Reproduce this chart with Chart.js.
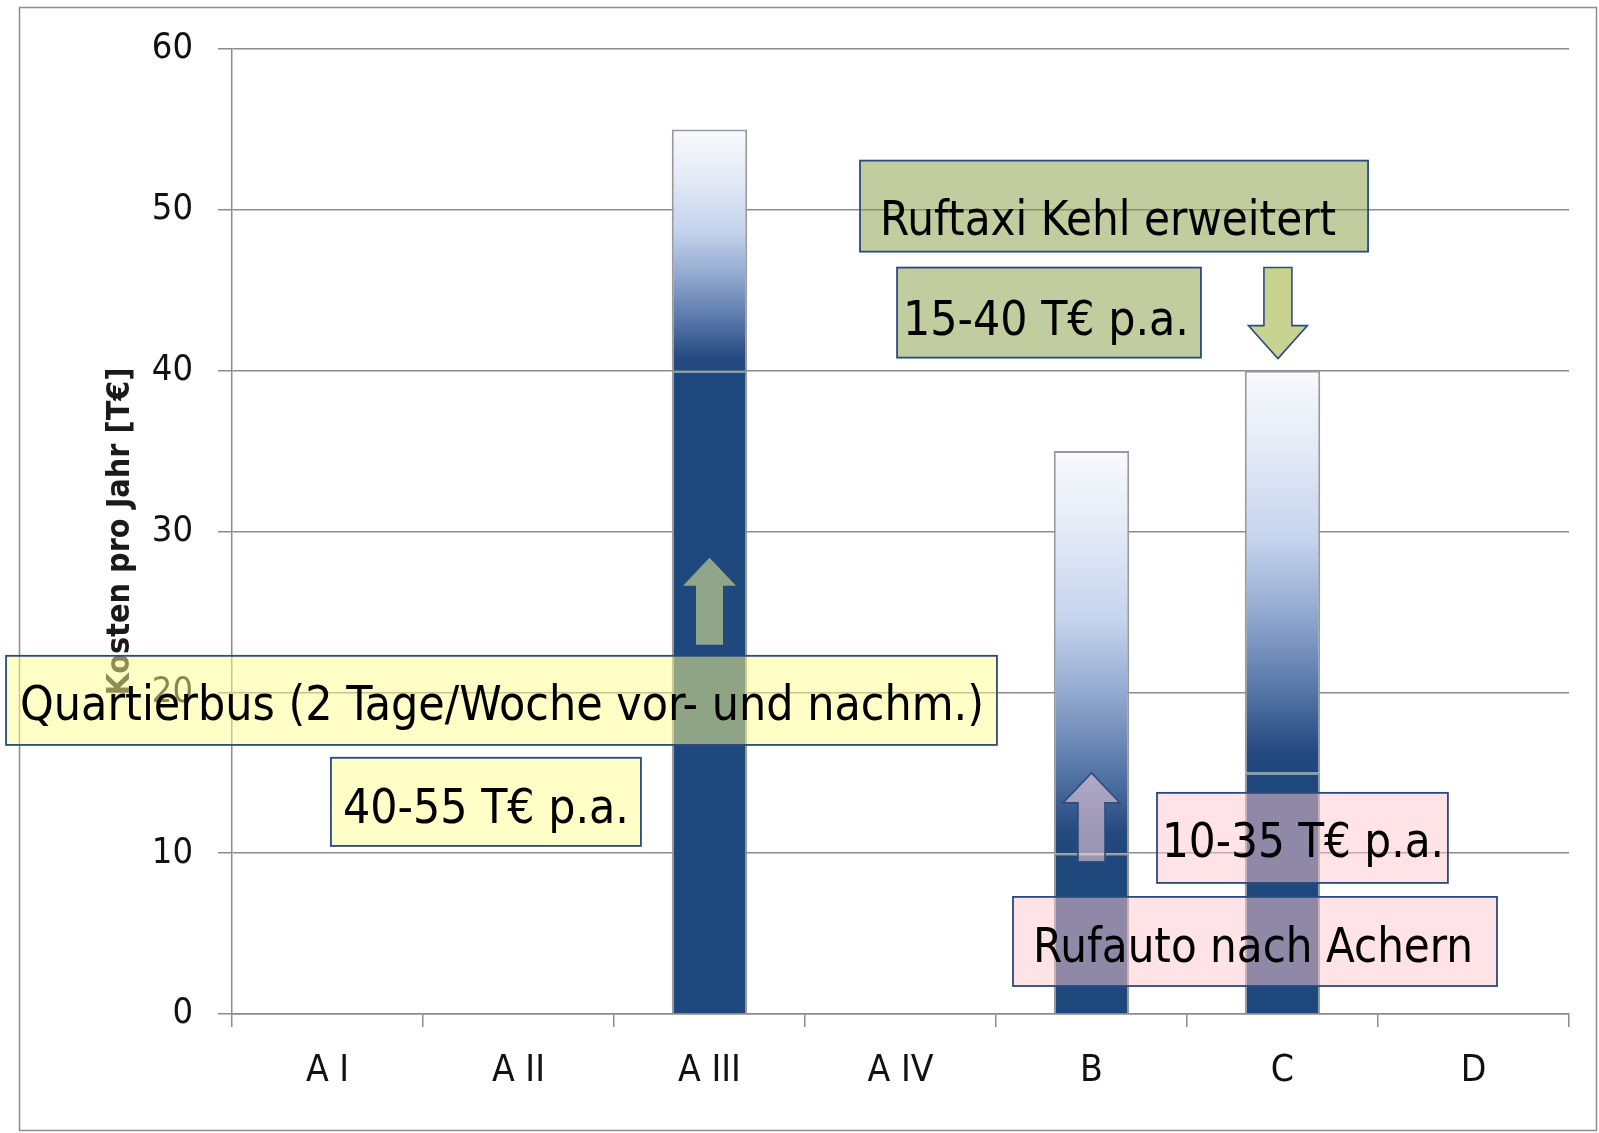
<!DOCTYPE html>
<html><head><meta charset="utf-8">
<script src="https://cdn.jsdelivr.net/npm/chart.js@4.4.1/dist/chart.umd.min.js"></script>
<style>html,body{margin:0;padding:0;background:#fff;overflow:hidden}canvas{display:block}</style>
</head><body>
<canvas id="c" width="1599" height="1133"></canvas>
<script>
// ---- data ----
const categories = ['A I', 'A II', 'A III', 'A IV', 'B', 'C', 'D'];
const minCost = [0, 0, 40, 0, 10, 15, 0];      // lower bound (solid part)
const rangeCost = [0, 0, 15, 0, 25, 25, 0];    // max - min (gradient part)
const yMin = 0, yMax = 60, yStep = 10;
const yTitle = 'Kosten pro Jahr [T€]';
const noteTexts = ['Quartierbus (2 Tage/Woche vor- und nachm.)', '40-55 T€ p.a.', 'Ruftaxi Kehl erweitert', '15-40 T€ p.a.', '10-35 T€ p.a.', 'Rufauto nach Achern'];

// ---- styling / layout ----
const FONT = "'DejaVu Sans Condensed', 'DejaVu Sans', sans-serif";
const GRID = '#8c8c8c';
const DARK = '#1f497d';
const YEL = 'rgba(255,253,142,0.5)', GRN = 'rgba(131,155,63,0.5)', PNK = 'rgba(255,200,208,0.5)';
const noteBoxes = [
  {x0: -1.683, x1: 3.505, y0: 16.73, y1: 22.27, tx: -1.61, ty: 18.29, tw: 964, fill: YEL},
  {x0: 0.018, x1: 1.641, y0: 10.45, y1: 15.93, tx: 0.081, ty: 11.85, tw: 286, fill: YEL},
  {x0: 2.788, x1: 5.448, y0: 47.40, y1: 53.06, tx: 2.893, ty: 48.46, tw: 456, fill: GRN},
  {x0: 2.982, x1: 4.573, y0: 40.81, y1: 46.41, tx: 3.013, ty: 42.24, tw: 286, fill: GRN},
  {x0: 4.343, x1: 5.866, y0: 8.15, y1: 13.75, tx: 4.369, ty: 9.78, tw: 282, fill: PNK},
  {x0: 3.589, x1: 6.123, y0: 1.74, y1: 7.28, tx: 3.694, ty: 3.21, tw: 440, fill: PNK}
];
const arrows = [
  {x: 2, tip: 28.37, base: 26.63, tail: 22.96, head: 26.5, shaft: 13.5, fill: 'rgba(198,210,143,0.68)', stroke: null},
  {x: 4, tip: 14.99, base: 13.13, tail: 9.46, head: 28.5, shaft: 13.5, fill: 'rgba(255,215,225,0.55)', stroke: '#2e4d7e'},
  {x: 4.976, tip: 40.75, base: 42.80, tail: 46.41, head: 29.5, shaft: 14, fill: '#c8d291', stroke: '#2e4d7e'}
];

function gradFill(ctx) {
  const chart = ctx.chart;
  const sc = chart.scales;
  if (!chart.chartArea || !sc || !sc.y) return '#c6d4ee';
  const i = ctx.dataIndex;
  const yb = sc.y.getPixelForValue(minCost[i]);
  const yt = sc.y.getPixelForValue(minCost[i] + rangeCost[i]);
  if (!(yb > yt)) return DARK;
  const g = chart.ctx.createLinearGradient(0, yt, 0, yb);
  g.addColorStop(0, '#f8fafd');
  g.addColorStop(0.2, '#e3eaf6');
  g.addColorStop(0.42, '#c5d3ed');
  g.addColorStop(0.6, '#93aad0');
  g.addColorStop(0.78, '#5a7aab');
  g.addColorStop(0.95, '#24497f');
  g.addColorStop(1, DARK);
  return g;
}

const bgPlugin = {
  id: 'bg',
  beforeDraw(chart) {
    const c = chart.ctx;
    c.save();
    c.fillStyle = '#fff';
    c.fillRect(0, 0, chart.width, chart.height);
    c.strokeStyle = GRID; c.lineWidth = 1.5;
    c.strokeRect(19.5, 7.5, 1577, 1123);
    c.restore();
  }
};

const notesPlugin = {
  id: 'notes',
  afterDraw(chart) {
    const c = chart.ctx, xs = chart.scales.x, ys = chart.scales.y;
    const X = v => xs.getPixelForValue(v), Y = v => ys.getPixelForValue(v);
    c.save();
    noteBoxes.forEach((b, k) => {
      const l = X(b.x0), r = X(b.x1), t = Y(b.y1), bt = Y(b.y0);
      c.fillStyle = b.fill;
      c.fillRect(l, t, r - l, bt - t);
      c.strokeStyle = '#2b4a7c'; c.lineWidth = 1.8;
      c.strokeRect(l, t, r - l, bt - t);
      c.fillStyle = '#000';
      c.font = '48px ' + FONT;
      c.textBaseline = 'alphabetic'; c.textAlign = 'left';
      const w = c.measureText(noteTexts[k]).width;
      c.save();
      c.translate(X(b.tx), Y(b.ty));
      c.scale(b.tw / w, 1);
      c.fillText(noteTexts[k], 0, 0);
      c.restore();
    });
    arrows.forEach(a => {
      const cx = X(a.x), tip = Y(a.tip), base = Y(a.base), tail = Y(a.tail);
      c.beginPath();
      c.moveTo(cx, tip);
      c.lineTo(cx + a.head, base);
      c.lineTo(cx + a.shaft, base);
      c.lineTo(cx + a.shaft, tail);
      c.lineTo(cx - a.shaft, tail);
      c.lineTo(cx - a.shaft, base);
      c.lineTo(cx - a.head, base);
      c.closePath();
      c.fillStyle = a.fill; c.fill();
      if (a.stroke) { c.strokeStyle = a.stroke; c.lineWidth = 1.6; c.stroke(); }
    });
    c.restore();
  }
};

new Chart(document.getElementById('c'), {
  type: 'bar',
  data: {
    labels: categories,
    datasets: [
      {label: 'min', data: minCost.map(v => v || null), backgroundColor: DARK, borderColor: '#9a9a9a', borderWidth: 2, stack: 's'},
      {label: 'range', data: rangeCost.map(v => v || null), backgroundColor: gradFill, borderColor: '#9a9a9a', borderWidth: 2, stack: 's'}
    ]
  },
  options: {
    responsive: false, animation: false, devicePixelRatio: 1,
    layout: {padding: {top: 49, right: 30, bottom: 0, left: 0}},
    plugins: {legend: {display: false}, tooltip: {enabled: false}},
    datasets: {bar: {barPercentage: 0.395, categoryPercentage: 1}},
    scales: {
      x: {
        stacked: true,
        grid: {display: true, drawOnChartArea: false, offset: true, color: GRID, lineWidth: 1.5, tickLength: 13},
        border: {color: GRID, width: 1.5},
        ticks: {font: {family: FONT, size: 37}, color: '#111', padding: 22, maxRotation: 0, autoSkip: false},
        afterFit(s) { s.height = 119; }
      },
      y: {
        stacked: true, min: yMin, max: yMax,
        ticks: {stepSize: yStep, font: {family: FONT, size: 36}, color: '#111', padding: 25},
        grid: {color: GRID, lineWidth: 1.5, tickLength: 14},
        border: {color: GRID, width: 1.5},
        title: {display: true, text: yTitle, font: {family: FONT, size: 32, weight: 'bold'}, color: '#1a1a1a', padding: {top: 101, bottom: 0}},
        afterFit(s) { s.width = 232; }
      }
    }
  },
  plugins: [bgPlugin, notesPlugin]
});
</script>
</body></html>
